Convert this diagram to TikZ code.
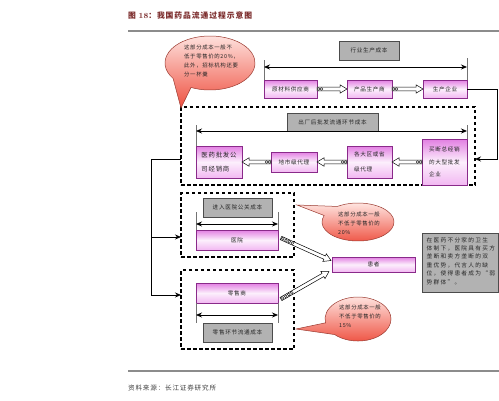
\documentclass[tikz,border=0pt]{standalone}
\usepackage{fontspec}
\newfontfamily\cjk[LetterSpace=12]{Noto Sans CJK SC}
\newfontfamily\cjkwide[LetterSpace=22]{Noto Sans CJK SC}
\usetikzlibrary{arrows.meta,calc}
\definecolor{pinkT}{HTML}{E27FE2}
\definecolor{pinkM}{HTML}{FCEFFC}
\definecolor{pinkB}{HTML}{F2B8F2}
\definecolor{boxborder}{HTML}{8A2A8A}
\definecolor{grayfill}{HTML}{B2B2B2}
\definecolor{titlered}{HTML}{7B2B2B}
\definecolor{bubbleT}{HTML}{FFE8E4}
\definecolor{bubbleB}{HTML}{EE5040}
\definecolor{bubbleline}{HTML}{9A3A30}
\definecolor{rulegray}{HTML}{8C8C8C}
\newcommand\hollowarr[3]{%
  \coordinate (hbase) at ($(#2)!7pt!(#1)$);
  \filldraw[fill=white, draw=black, line width=0.5pt]
    ($(#1)!1.8pt!90:(#2)$) -- ($(hbase)!1.8pt!-90:(#1)$) -- ($(hbase)!4.2pt!-90:(#1)$) -- (#2)
    -- ($(hbase)!4.2pt!90:(#1)$) -- ($(hbase)!1.8pt!90:(#1)$) -- ($(#1)!1.8pt!-90:(#2)$) -- cycle;
  \foreach \dd in {#3} {\filldraw[fill=white, draw=black, line width=0.4pt] ($(#1)!\dd!(#2)$) circle[radius=1.4pt];}
}
\tikzset{
  pinkbox/.style={draw=boxborder, line width=0.6pt, top color=pinkT, bottom color=pinkB, middle color=pinkM,
    inner sep=0pt, outer sep=0pt, text=black!85, font=\cjk\fontsize{5.6}{8}\selectfont},
  graybox/.style={draw=black!70, line width=0.6pt, fill=grayfill, inner sep=0pt, outer sep=0pt,
    text=black!85, font=\cjk\fontsize{5.6}{8}\selectfont},
  dashbox/.style={draw=black, line width=1.1pt, dash pattern=on 3.5pt off 2.5pt, inner sep=0pt, outer sep=0pt},
  tickline/.style={draw=black!55, line width=0.6pt},
  dblarrow/.style={draw=black, line width=0.8pt, {Stealth[length=6pt,width=5pt]}-{Stealth[length=6pt,width=5pt]}},
  conn/.style={draw=black, line width=0.8pt},
  connarrow/.style={conn, -{Stealth[length=6pt,width=5pt]}},
  bubble/.style={draw=bubbleline, line width=0.5pt, top color=bubbleT, bottom color=bubbleB},
  bubbletext/.style={inner sep=0pt, align=left, text=black!85, font=\cjk\fontsize{5.4}{9.2}\selectfont, anchor=north west},
  rule/.style={draw=rulegray, line width=1.5pt},
}
\begin{document}
\begin{tikzpicture}[x=1pt,y=-1pt]
\useasboundingbox (0,0) rectangle (499,400);
\fill[white] (0,0) rectangle (499,400);

% title and rules
\node[anchor=west, inner sep=0pt, text=titlered, font=\cjk\bfseries\fontsize{7.8}{9}\selectfont] (title) at (128,15)
  {图 {\normalfont\bfseries 18}：我国药品流通过程示意图};
\coordinate (r1a) at (128,31); \coordinate (r1b) at (499,31);
\draw[rule] (r1a) -- (r1b);
\coordinate (r2a) at (128,371); \coordinate (r2b) at (499,371);
\draw[rule] (r2a) -- (r2b);
\node[anchor=west, inner sep=0pt, text=black!75, font=\cjk\fontsize{6.6}{8}\selectfont] (src) at (128,388)
  {资料来源：长江证券研究所};

% dashed boxes
\node[dashbox, minimum width=294pt, minimum height=78pt] (d2) at (328,146) {};
\node[dashbox, minimum width=113pt, minimum height=64pt] (d3) at (237.5,225) {};
\node[dashbox, minimum width=113pt, minimum height=79pt] (d4) at (237.5,309.5) {};

% bubble 1
\path[bubble] (173.14,78.49) -- (181,108) -- (190.98,87.47)
  arc[start angle=115, end angle=-215, x radius=45, y radius=27] -- cycle;
\node[bubbletext] (b1t) at (184,44.5) {这部分成本一般不\\低于零售价的20\%，\\此外，招标机构还要\\分一杯羹};

% row 1
\node[graybox, minimum width=60pt, minimum height=19pt] (hycost) at (369,50.5) {行业生产成本};
\node[pinkbox, minimum width=53pt, minimum height=18pt] (rm) at (290.5,89) {原材料供应商};
\node[pinkbox, minimum width=45pt, minimum height=18pt] (cp) at (369.5,89) {产品生产商};
\node[pinkbox, minimum width=44pt, minimum height=18pt] (sc) at (445,89) {生产企业};
\draw[tickline] (rm.north west) -- ++(0,-20);
\draw[tickline] (sc.north east) -- ++(0,-22);
\draw[dblarrow] ($(rm.north west)+(0,-13)$) -- ($(sc.north east)+(0,-13)$);
\hollowarr{rm.east}{cp.west}{1.5pt,4.5pt}
\hollowarr{cp.east}{sc.west}{1.5pt,4.5pt}

% row 2
\node[graybox, minimum width=91pt, minimum height=18pt] (cc) at (332.5,122) {出厂后批发流通环节成本};
\node[pinkbox, minimum width=46pt, minimum height=32pt, align=left, font=\cjk\fontsize{6.4}{13.5}\selectfont] (pf) at (219,162) {医药批发公\\司经销商};
\node[pinkbox, minimum width=46pt, minimum height=20pt] (ds) at (294,162) {地市级代理};
\node[pinkbox, minimum width=45pt, minimum height=32pt, align=left, font=\cjk\fontsize{5.6}{14.5}\selectfont] (dq) at (369.5,162) {各大区或省\\级代理};
\node[pinkbox, minimum width=45pt, minimum height=46pt, align=left, font=\cjk\fontsize{5.6}{12.5}\selectfont] (md) at (444.5,162) {买断总经销\\的大型批发\\企业};
\draw[tickline] (pf.north west) -- ++(0,-21);
\draw[tickline] (md.north east) -- ++(0,-14);
\draw[dblarrow] (pf.north west |- cc.south) -- (md.north east |- cc.south);
\hollowarr{md.west}{dq.east}{1.5pt,4.5pt}
\hollowarr{dq.west}{ds.east}{1.5pt,4.5pt}
\hollowarr{ds.west}{pf.east}{1.5pt,4.5pt}

% hospital box
\node[graybox, minimum width=69pt, minimum height=19pt] (yycost) at (237.5,207.5) {进入医院公关成本};
\node[pinkbox, minimum width=82pt, minimum height=20pt] (yy) at (237,240) {医院};
\draw[tickline] (yy.north west) -- ++(0,-18);
\draw[tickline] (yy.north east) -- ++(0,-18);
\draw[dblarrow] ($(yy.north west)+(0,-6)$) -- ($(yy.north east)+(0,-6)$);

% retail box
\node[pinkbox, minimum width=82pt, minimum height=20pt] (ls) at (237,293) {零售商};
\node[graybox, minimum width=69pt, minimum height=19pt] (lscost) at (237.5,332.5) {零售环节流通成本};
\draw[tickline] (ls.south west) -- ++(0,20);
\draw[tickline] (ls.south east) -- ++(0,20);
\draw[dblarrow] ($(ls.south west)+(0,12)$) -- ($(ls.south east)+(0,12)$);

% patient
\node[pinkbox, minimum width=83pt, minimum height=15pt] (hz) at (373.5,264.5) {患者};
\coordinate (yyA) at ($(yy.east)+(3,-2)$);
\coordinate (hzA) at ($(hz.west)+(-1,-4)$);
\coordinate (lsA) at ($(ls.east)+(3,6)$);
\coordinate (hzB) at ($(hz.west)+(-3,7)$);
\hollowarr{yyA}{hzA}{2pt,5.5pt,9pt,12.5pt}
\hollowarr{lsA}{hzB}{2pt,5.5pt,9pt,12.5pt}

% bubble 2
\path[bubble] (337.35,206.44) -- (297,205) -- (324.17,215.50)
  arc[start angle=200, end angle=-125, x radius=36, y radius=19] -- cycle;
\node[bubbletext] (b2t) at (338,211.5) {这部分成本一般\\不低于零售价的\\20\%};

% bubble 3
\path[bubble] (325.50,322.82) -- (296,329) -- (334.67,334.56)
  arc[start angle=135, end angle=-190, x radius=33, y radius=22] -- cycle;
\node[bubbletext] (b3t) at (339,304.5) {这部分成本一般\\不低于零售价的\\15\%};

% note
\node[graybox, minimum width=76pt, minimum height=59pt] (note) at (460,262.5) {};
\node[inner sep=0pt, anchor=north west, align=left, text=black!85, font=\cjkwide\fontsize{5.7}{8.4}\selectfont] (notet) at (426.5,237)
  {在医药不分家的卫生\\体制下，医院具有买方\\垄断和卖方垄断的双\\重优势，代言人的缺\\位，使得患者成为“弱\\势群体”。};

% connectors
\coordinate (rc) at ($(d2.south east)+(0,-26)$);
\draw[connarrow] (sc.east) -| ($(rc)+(22,0)$) -- (rc);
\coordinate (lc) at ($(d2.south west)+(0,-26)$);
\coordinate (lv) at ($(lc)+(-30,0)$);
\coordinate (l3) at ($(d3.north west)+(0,44)$);
\coordinate (l4) at ($(d4.north west)+(0,25)$);
\draw[conn] (lc) -- (lv);
\draw[connarrow] (lv) |- (l4);
\draw[connarrow] (lv |- l3) -- (l3);
\end{tikzpicture}
\end{document}
